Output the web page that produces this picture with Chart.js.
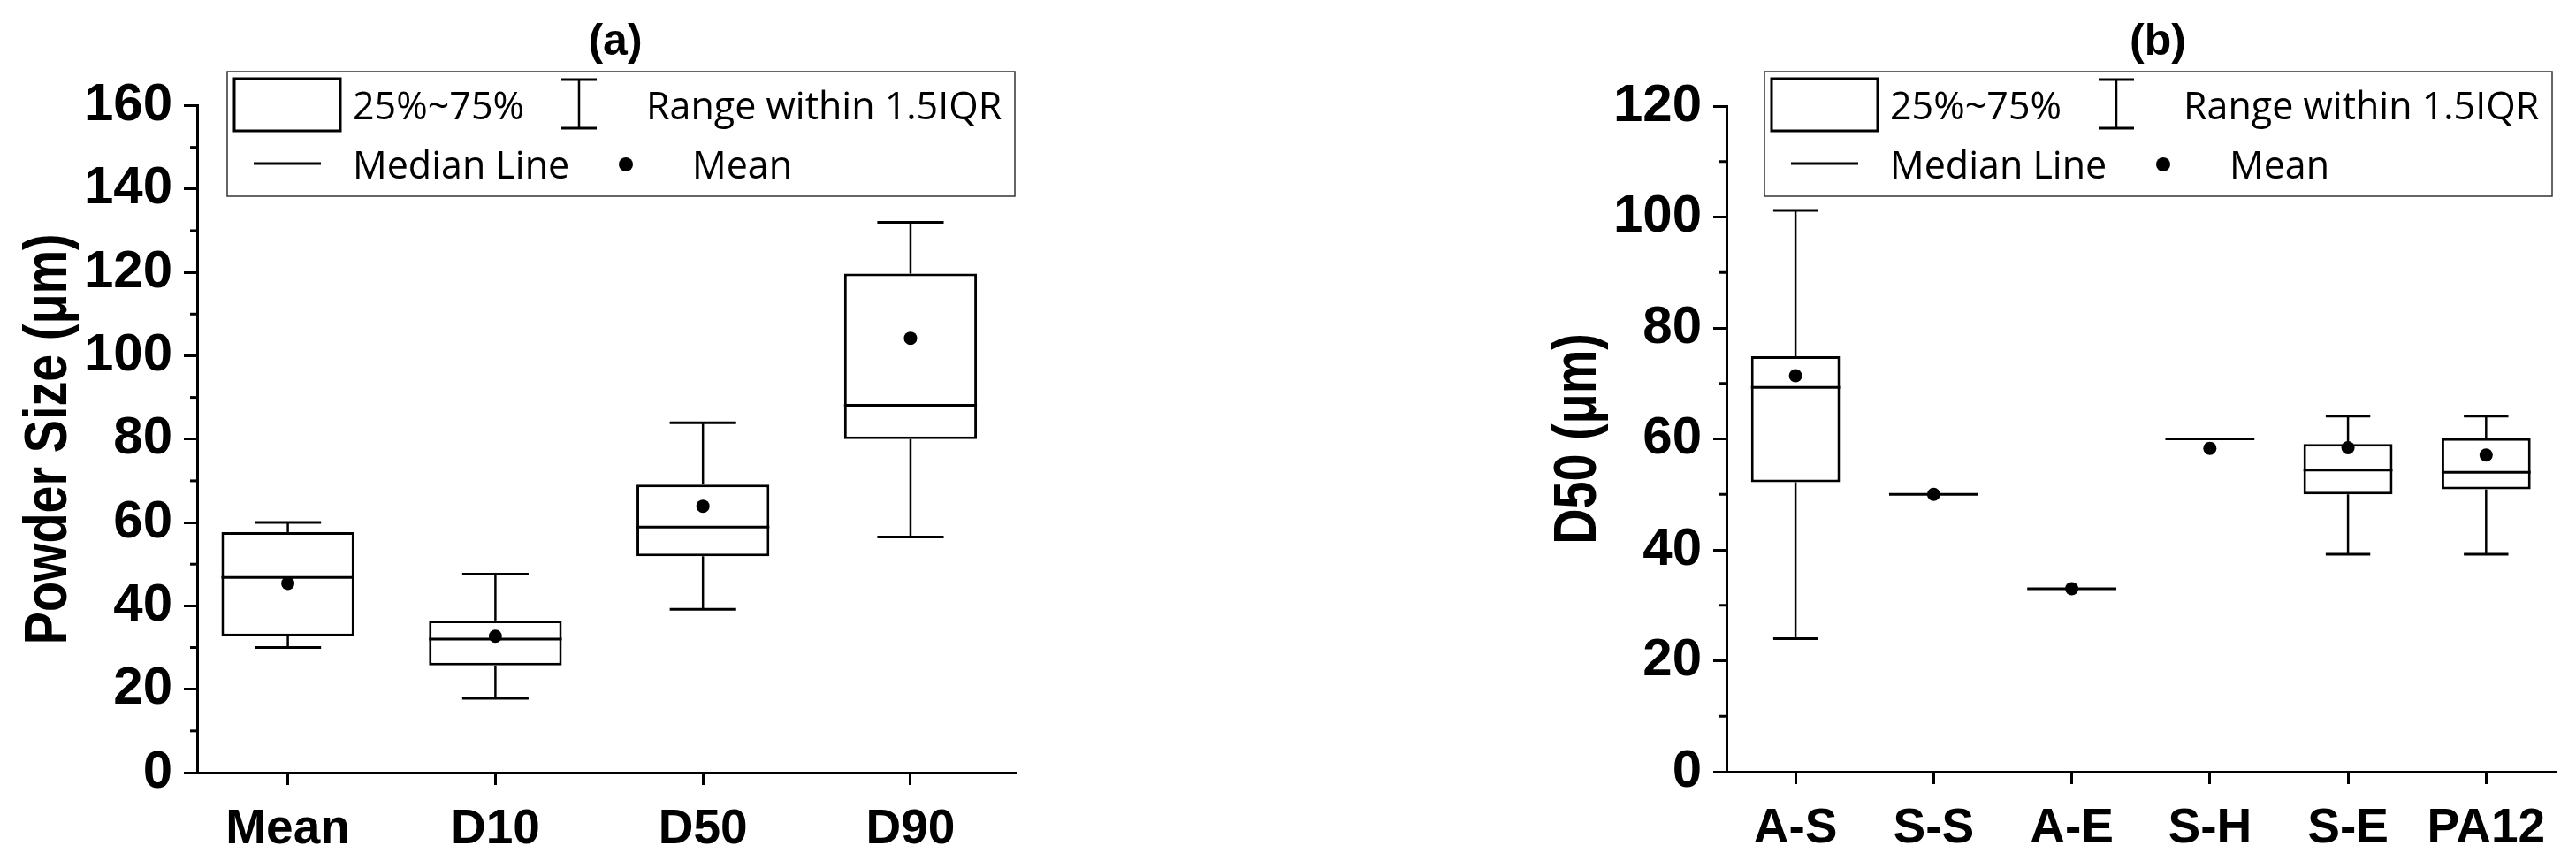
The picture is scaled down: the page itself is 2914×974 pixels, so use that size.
<!DOCTYPE html>
<html lang="en">
<head>
<meta charset="UTF-8">
<title>Powder size box plots</title>
<script src="https://cdn.jsdelivr.net/npm/chart.js"></script>
<style>
  html, body { margin: 0; padding: 0; background: #ffffff; overflow: hidden; }
  .panel { position: absolute; top: 0; }
  #panelA { left: 0; }
  #panelB { left: 1460px; }
</style>
</head>
<body>
<canvas id="panelA" class="panel" width="1460" height="974"></canvas>
<canvas id="panelB" class="panel" width="1454" height="974"></canvas>
<script>
// (a) powder size statistics
const catsA = ['Mean', 'D10', 'D50', 'D90'];
const minA  = [30.0, 17.8, 39.2, 56.5];
const q1A   = [32.7, 25.7, 51.9, 80.0];
const medA  = [46.8, 32.0, 58.9, 88.1];
const q3A   = [57.7, 36.5, 69.1, 119.7];
const maxA  = [60.0, 47.6, 83.9, 132.0];
const meanA = [45.4, 32.7, 63.9, 104.2];

// (b) D50 per material
const catsB = ['A-S', 'S-S', 'A-E', 'S-H', 'S-E', 'PA12'];
const minB  = [24.0, 50.0, 33.0, 60.0, 39.2, 39.2];
const q1B   = [52.2, 50.0, 33.0, 60.0, 50.0, 50.9];
const medB  = [69.3, 50.0, 33.0, 60.0, 54.4, 54.0];
const q3B   = [74.9, 50.0, 33.0, 60.0, 59.1, 60.1];
const maxB  = [101.2, 50.0, 33.0, 60.0, 64.1, 64.1];
const meanB = [71.4, 50.0, 33.0, 58.3, 58.4, 57.1];

const FONT = "'Liberation Sans', Arial, sans-serif";
const LEG_FONT = "'Open Sans', 'Liberation Sans', sans-serif";

function hline(ctx, x1, x2, y) {
    ctx.beginPath(); ctx.moveTo(x1, y); ctx.lineTo(x2, y); ctx.stroke();
}
function vline(ctx, x, y1, y2) {
    ctx.beginPath(); ctx.moveTo(x, y1); ctx.lineTo(x, y2); ctx.stroke();
}

function drawLegend(ctx, L, T) {
    ctx.save();
    ctx.strokeStyle = '#333';
    ctx.lineWidth = 1.5;
    ctx.strokeRect(L, T, 891, 141);

    ctx.strokeStyle = '#000';
    ctx.lineWidth = 3;
    ctx.strokeRect(L + 8, T + 8, 120, 59);
    // whisker symbol
    ctx.lineWidth = 2.5;
    vline(ctx, L + 398, T + 9, T + 64);
    ctx.lineWidth = 3;
    hline(ctx, L + 378, L + 418, T + 9);
    hline(ctx, L + 378, L + 418, T + 64);
    // median symbol
    hline(ctx, L + 30, L + 106, T + 104);
    // mean symbol
    ctx.fillStyle = '#000';
    ctx.beginPath(); ctx.arc(L + 451, T + 105, 8, 0, Math.PI * 2); ctx.fill();

    ctx.font = '43px ' + LEG_FONT;
    ctx.textBaseline = 'alphabetic';
    ctx.textAlign = 'left';
    ctx.fillText('25%~75%', L + 142, T + 54);
    ctx.fillText('Range within 1.5IQR', L + 474, T + 54);
    ctx.fillText('Median Line', L + 142, T + 121);
    ctx.fillText('Mean', L + 526, T + 121);
    ctx.restore();
}

const boxExtras = {
    id: 'boxExtras',
    afterDatasetDraw(chart, args, o) {
        if (args.index !== 0) return;
        const ctx = chart.ctx, x = chart.scales.x, y = chart.scales.y;
        ctx.save();
        ctx.strokeStyle = '#000';
        o.cats.forEach((c, i) => {
            const xl = x.getPixelForValue(i + 1 - o.boxWidth / 2);
            const xr = x.getPixelForValue(i + 1 + o.boxWidth / 2);
            const xc = x.getPixelForValue(i + 1);
            const cw = (xr - xl) / 4;
            ctx.lineWidth = 3;
            hline(ctx, xl, xr, y.getPixelForValue(o.med[i]));
            [[o.q3[i], o.max[i]], [o.q1[i], o.min[i]]].forEach(([from, to]) => {
                if (Math.abs(to - from) < 0.01) return;
                ctx.lineWidth = 2.5;
                vline(ctx, xc, y.getPixelForValue(from), y.getPixelForValue(to));
                ctx.lineWidth = 3;
                hline(ctx, xc - cw, xc + cw, y.getPixelForValue(to));
            });
        });
        ctx.restore();
    },
    afterDraw(chart, args, o) {
        const ctx = chart.ctx, y = chart.scales.y, area = chart.chartArea;
        ctx.save();
        ctx.strokeStyle = '#000';
        ctx.lineWidth = 3;
        // minor ticks
        for (let v = o.minorStep; v < y.max; v += o.minorStep * 2) {
            hline(ctx, area.left - 8, area.left, y.getPixelForValue(v));
        }
        // panel title
        ctx.fillStyle = '#000';
        ctx.font = 'bold 50px ' + FONT;
        ctx.textAlign = 'center';
        ctx.textBaseline = 'alphabetic';
        ctx.fillText(o.title, o.titleX, 62);
        // y axis title (narrow bold)
        ctx.save();
        ctx.translate(area.left - 148, (area.top + area.bottom) / 2);
        ctx.rotate(-Math.PI / 2);
        ctx.scale(0.82, 1);
        ctx.font = 'bold 68px ' + FONT;
        ctx.textAlign = 'center';
        ctx.textBaseline = 'alphabetic';
        ctx.fillText(o.yTitle, 0, 0);
        ctx.restore();
        ctx.restore();
        drawLegend(ctx, o.legendLeft, 81);
    }
};

function makeBoxChart(id, cats, mins, q1s, meds, q3s, maxs, means, p) {
    const ctx = document.getElementById(id).getContext('2d');
    return new Chart(ctx, {
        type: 'bar',
        data: {
            datasets: [
                {
                    type: 'bar',
                    label: '25%~75%',
                    order: 1,
                    data: cats.map((c, i) => ({ x: i + 1, y: [q1s[i], q3s[i]] })),
                    backgroundColor: '#ffffff',
                    borderColor: '#000000',
                    borderWidth: 3,
                    borderSkipped: false,
                    categoryPercentage: 1,
                    barPercentage: p.boxWidth
                },
                {
                    type: 'scatter',
                    label: 'Mean',
                    order: 0,
                    data: cats.map((c, i) => ({ x: i + 1, y: means[i] })),
                    pointRadius: 7.5,
                    pointBackgroundColor: '#000000',
                    pointBorderWidth: 0
                }
            ]
        },
        options: {
            responsive: false,
            animation: false,
            layout: { padding: { top: p.top, left: 0, right: p.right, bottom: 0 } },
            plugins: {
                legend: { display: false },
                tooltip: { enabled: false },
                boxExtras: {
                    cats: cats, min: mins, q1: q1s, med: meds, q3: q3s, max: maxs,
                    boxWidth: p.boxWidth, minorStep: p.step / 2,
                    title: p.title, titleX: p.titleX, yTitle: p.yTitle,
                    legendLeft: p.legendLeft
                }
            },
            scales: {
                x: {
                    type: 'linear',
                    min: p.xMin,
                    max: p.xMax,
                    offset: false,
                    afterBuildTicks: s => { s.ticks = cats.map((c, i) => ({ value: i + 1 })); },
                    afterFit: s => { s.height = p.xHeight; },
                    grid: { display: true, offset: false, drawOnChartArea: false, drawTicks: true,
                            tickLength: 14, tickWidth: 3, tickColor: '#000' },
                    border: { display: true, color: '#000', width: 3 },
                    ticks: {
                        autoSkip: false,
                        maxRotation: 0,
                        padding: 18,
                        color: '#000',
                        font: { family: FONT, size: 55, weight: 'bold' },
                        callback: v => cats[Math.round(v) - 1]
                    }
                },
                y: {
                    min: 0,
                    max: p.yMax,
                    afterFit: s => { s.width = p.yWidth; },
                    grid: { display: true, drawOnChartArea: false, drawTicks: true,
                            tickLength: 15, tickWidth: 3, tickColor: '#000' },
                    border: { display: true, color: '#000', width: 3 },
                    ticks: {
                        stepSize: p.step,
                        padding: 13,
                        color: '#000',
                        font: { family: FONT, size: 60, weight: 'bold' }
                    }
                }
            }
        },
        plugins: [boxExtras]
    });
}

makeBoxChart('panelA', catsA, minA, q1A, medA, q3A, maxA, meanA, {
    boxWidth: 0.64, xMin: 0.563, xMax: 4.507, yMax: 160, step: 20,
    top: 119.5, right: 311, yWidth: 223, xHeight: 100,
    title: '(a)', titleX: 696, yTitle: 'Powder Size (\u03bcm)', legendLeft: 257
});

makeBoxChart('panelB', catsB, minB, q1B, medB, q3B, maxB, meanB, {
    boxWidth: 0.645, xMin: 0.5, xMax: 6.51, yMax: 120, step: 20,
    top: 120, right: 22, yWidth: 493, xHeight: 101,
    title: '(b)', titleX: 981, yTitle: 'D50 (\u03bcm)', legendLeft: 536
});
</script>
</body>
</html>
